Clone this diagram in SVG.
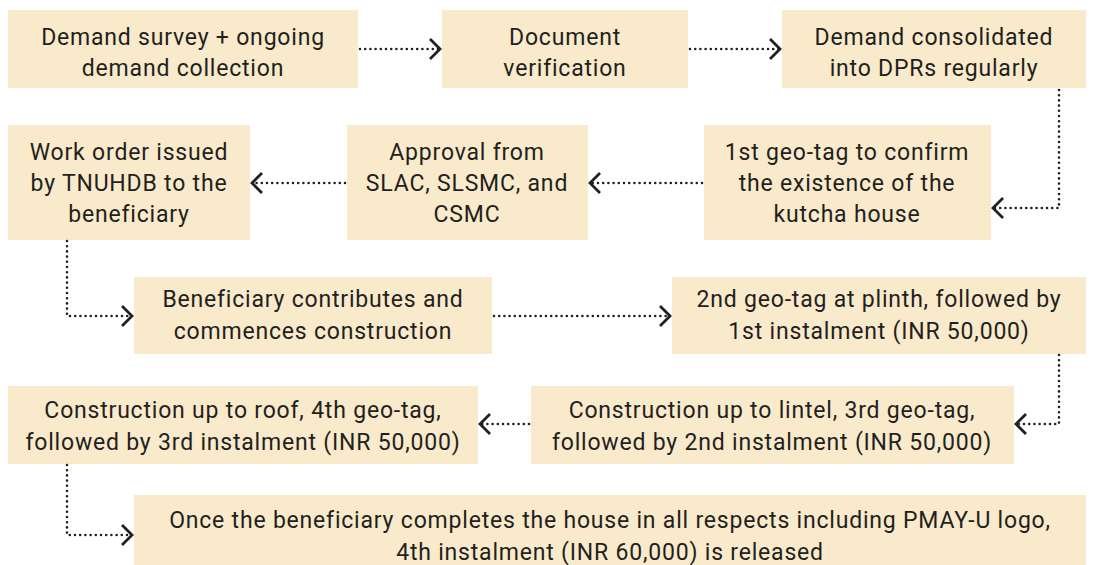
<svg xmlns="http://www.w3.org/2000/svg" width="1100" height="565" viewBox="0 0 1100 565">
<defs>
<style>
.box{fill:#F9EACB;}
.t{font-family:Roboto,"Liberation Sans",sans-serif;font-size:23px;fill:#231F20;text-anchor:middle;letter-spacing:0.8px;}
.c{fill:none;stroke:#231F20;stroke-width:2.6;stroke-linecap:round;stroke-dasharray:0 5.2;}
</style>
<marker id="ah" markerUnits="userSpaceOnUse" markerWidth="24" markerHeight="24" viewBox="-14 -12 16 24" refX="0" refY="0" orient="auto">
<path d="M-10,-10 L0,0 L-10,10" fill="none" stroke="#231F20" stroke-width="2.8"/>
</marker>
</defs>
<rect width="1100" height="565" fill="#fff"/>
<g id="n1"><rect class="box" x="8" y="10" width="350" height="78"/><text class="t" x="183" y="45">Demand survey + ongoing</text><text class="t" x="183" y="76">demand collection</text></g>
<g id="n2"><rect class="box" x="442" y="10" width="246" height="78"/><text class="t" x="565" y="45">Document</text><text class="t" x="565" y="76">verification</text></g>
<g id="n3"><rect class="box" x="782" y="10" width="304" height="78"/><text class="t" x="934" y="45">Demand consolidated</text><text class="t" x="934" y="76">into DPRs regularly</text></g>
<g id="n4"><rect class="box" x="704" y="125" width="287" height="115"/><text class="t" x="847" y="160">1st geo-tag to confirm</text><text class="t" x="847" y="191">the existence of the</text><text class="t" x="847" y="222">kutcha house</text></g>
<g id="n5"><rect class="box" x="347" y="125" width="241" height="115"/><text class="t" x="467" y="160">Approval from</text><text class="t" x="467" y="191">SLAC, SLSMC, and</text><text class="t" x="467" y="222">CSMC</text></g>
<g id="n6"><rect class="box" x="8" y="125" width="242" height="115"/><text class="t" x="129" y="160">Work order issued</text><text class="t" x="129" y="191">by TNUHDB to the</text><text class="t" x="129" y="222">beneficiary</text></g>
<g id="n7"><rect class="box" x="134" y="277" width="358" height="77"/><text class="t" x="313" y="307">Beneficiary contributes and</text><text class="t" x="313" y="339">commences construction</text></g>
<g id="n8"><rect class="box" x="672" y="277" width="414" height="77"/><text class="t" x="879" y="307">2nd geo-tag at plinth, followed by</text><text class="t" x="879" y="339">1st instalment (INR 50,000)</text></g>
<g id="n9"><rect class="box" x="531" y="386" width="483" height="78"/><text class="t" x="772" y="418">Construction up to lintel, 3rd geo-tag,</text><text class="t" x="772" y="450">followed by 2nd instalment (INR 50,000)</text></g>
<g id="n10"><rect class="box" x="8" y="386" width="470" height="78"/><text class="t" x="243" y="418">Construction up to roof, 4th geo-tag,</text><text class="t" x="243" y="450">followed by 3rd instalment (INR 50,000)</text></g>
<g id="n11"><rect class="box" x="134" y="495" width="952" height="70"/><text class="t" x="610" y="528">Once the beneficiary completes the house in all respects including PMAY-U logo,</text><text class="t" x="610" y="560">4th instalment (INR 60,000) is released</text></g>
<g id="connectors">
<path class="c" marker-end="url(#ah)" d="M360,49 H440"/>
<path class="c" marker-end="url(#ah)" d="M690,49 H780"/>
<path class="c" marker-end="url(#ah)" d="M1059,90 V208 H993"/>
<path class="c" marker-end="url(#ah)" d="M702,183 H590"/>
<path class="c" marker-end="url(#ah)" d="M345,183 H252"/>
<path class="c" marker-end="url(#ah)" d="M67,241 V316 H132"/>
<path class="c" marker-end="url(#ah)" d="M494,316 H670"/>
<path class="c" marker-end="url(#ah)" d="M1059,355 V424 H1016"/>
<path class="c" marker-end="url(#ah)" d="M529,424 H480"/>
<path class="c" marker-end="url(#ah)" d="M67,465 V535 H132"/>
</g>
</svg>
